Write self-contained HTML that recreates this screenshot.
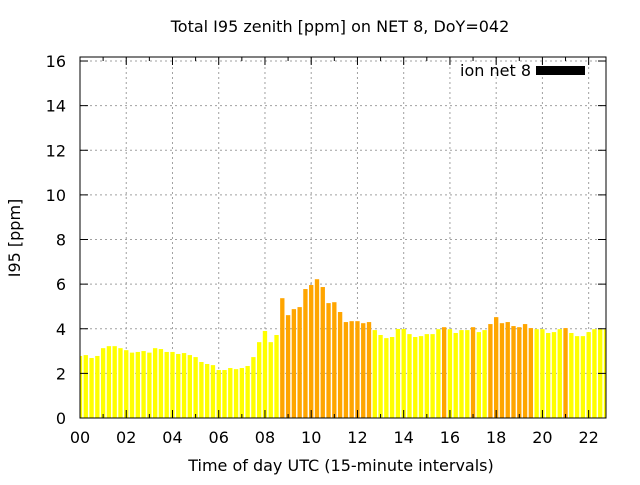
<!DOCTYPE html>
<html><head><meta charset="utf-8"><style>
body{margin:0;background:#fff;}
svg text{font-family:"DejaVu Sans","Liberation Sans",sans-serif;fill:#000;}
</style></head><body>
<svg id="chart" width="640" height="480" viewBox="0 0 640 480" xmlns="http://www.w3.org/2000/svg">
<rect width="640" height="480" fill="#fff"/>
<text x="340" y="32" font-size="16" text-anchor="middle">Total I95 zenith [ppm] on NET 8, DoY=042</text>
<text x="20" y="238" font-size="16" text-anchor="middle" transform="rotate(-90 20 238)">I95 [ppm]</text>
<text x="341" y="471" font-size="16" text-anchor="middle">Time of day UTC (15-minute intervals)</text>
<g id="grid"></g>
<g id="bars"></g>
<g id="axes"></g>
<text x="531" y="76" font-size="16" text-anchor="end">ion net 8</text>
<rect x="536" y="66" width="49" height="9" fill="#000"/>
</svg>
<script>
const values = [2.78,2.82,2.69,2.78,3.13,3.22,3.22,3.13,3.04,2.93,2.96,3.0,2.93,3.13,3.09,2.96,2.96,2.87,2.91,2.82,2.73,2.51,2.42,2.37,2.15,2.15,2.24,2.19,2.24,2.33,2.73,3.40,3.90,3.40,3.72,5.37,4.61,4.88,4.97,5.78,5.96,6.22,5.87,5.15,5.19,4.75,4.30,4.34,4.34,4.25,4.30,3.94,3.72,3.58,3.63,3.99,3.99,3.76,3.63,3.67,3.76,3.76,3.98,4.07,3.98,3.81,3.94,3.94,4.07,3.85,3.94,4.21,4.52,4.25,4.30,4.12,4.07,4.21,4.03,3.98,3.98,3.81,3.85,3.98,4.03,3.81,3.67,3.67,3.85,3.98,3.98,3.98];
const yTicks = [0,2,4,6,8,10,12,14,16];
const xTickLabels = ["00","02","04","06","08","10","12","14","16","18","20","22"];
const threshold = [4.0];
const NS="http://www.w3.org/2000/svg";
const L=80,R=606,T=57,B=418;
const XMAX=22.75,YMAX=16.18;
function xs(h){return L+(h/XMAX)*(R-L);}
function ys(v){return B-(v/YMAX)*(B-T);}
function mk(tag,attrs,parent){const e=document.createElementNS(NS,tag);for(const k in attrs)e.setAttribute(k,attrs[k]);parent.appendChild(e);return e;}
const grid=document.getElementById('grid'),bars=document.getElementById('bars'),axes=document.getElementById('axes');
yTicks.forEach(t=>{
  const y=ys(t);
  if(t>0){const g=mk('line',{x1:L,x2:R,y1:y,y2:y,stroke:'#a0a0a0','stroke-dasharray':'2,3'},grid);
  
  }
  mk('line',{x1:L,x2:L+8,y1:y,y2:y,stroke:'#000'},axes);
  mk('line',{x1:R,x2:R-8,y1:y,y2:y,stroke:'#000'},axes);
  const tx=mk('text',{x:L-14,y:y+6,'font-size':16,'text-anchor':'end'},axes);
  tx.textContent=t;
  
  
});
xTickLabels.forEach((lab,i)=>{
  const x=xs(i*2);
  if(i>0){const g=mk('line',{x1:x,x2:x,y1:T,y2:B,stroke:'#a0a0a0','stroke-dasharray':'2,3'},grid);
  
  }
  const tx=mk('text',{x:x,y:443,'font-size':16,'text-anchor':'middle'},axes);
  tx.textContent=lab;
  
  
});
for(let h=0;h<=22;h++){const x=xs(h);const len=(h%2===0)?8:4;
  mk('line',{x1:x,x2:x,y1:B,y2:B-len,stroke:'#000'},axes);
  mk('line',{x1:x,x2:x,y1:T,y2:T+len,stroke:'#000'},axes);}
const cp=mk('clipPath',{id:'pc'},bars);mk('rect',{x:L,y:T,width:R-L,height:B-T},cp);
const bw=(xs(0.25)-xs(0))*0.75;
values.forEach((v,i)=>{
  const cx=xs(i*0.25);
  const r=mk('rect',{x:cx-bw/2,y:ys(v),width:bw,height:B-ys(v),fill:v>threshold[0]?'#ffa500':'#ffff00','clip-path':'url(#pc)'},bars);
  
  
});
const fr=mk('rect',{x:L,y:T,width:R-L,height:B-T,fill:'none',stroke:'#000','stroke-width':1},axes);


</script>
</body></html>
